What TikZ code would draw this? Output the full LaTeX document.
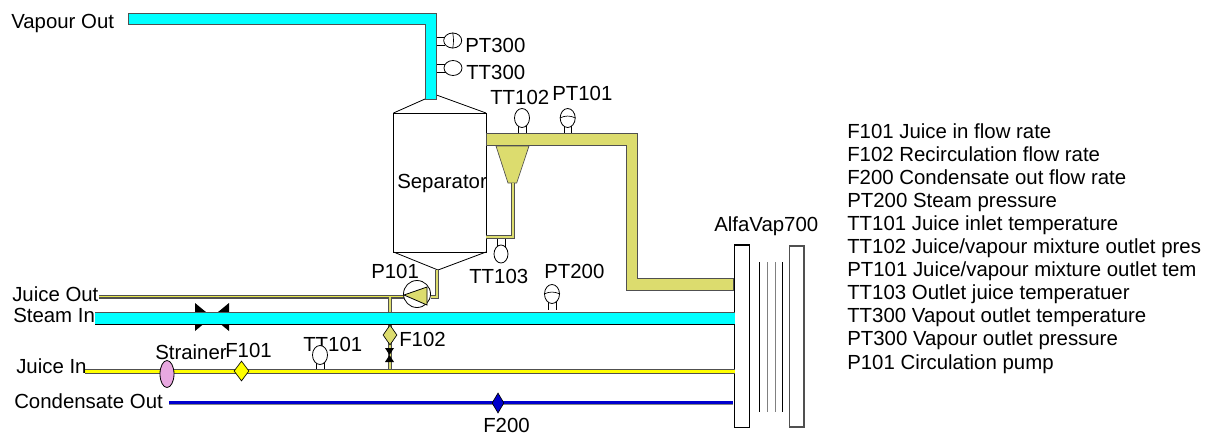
\documentclass[tikz,border=0pt]{standalone}
\usepackage{fontspec}
\setmainfont{Liberation Sans}
\usetikzlibrary{shapes.geometric}
\definecolor{khaki}{RGB}{220,220,110}
\definecolor{edge}{RGB}{80,80,80}
\definecolor{plum}{RGB}{232,168,224}
\definecolor{aqua}{RGB}{0,255,255}
\definecolor{yel}{RGB}{255,255,0}
\definecolor{deep}{RGB}{0,0,205}
\def\PX{*0.75pt}
\tikzset{
 lab/.style={inner sep=0pt,anchor=west,text height=11pt,text depth=0pt,font=\fontsize{15.3}{15.3}\selectfont},
 inst/.style={ellipse,draw=black,fill=white,line width=.6pt,inner sep=0pt,minimum width=15\PX,minimum height=19\PX},
 instside/.style={ellipse,draw=black,fill=white,line width=.6pt,inner sep=0pt,minimum width=18\PX,minimum height=15\PX},
 stem/.style={draw=black,line width=.5pt},
 pipewall/.style={draw=edge,line width=.7pt},
 plate/.style={draw=black,fill=white,line width=.8pt},
 flow/.style={diamond,draw=black,line width=.5pt,inner sep=0pt},
}
\begin{document}
\begin{tikzpicture}[x=0.75pt,y=-0.75pt]
\useasboundingbox (0,0) rectangle (1210,437);
% heat exchanger
\draw[plate] (734.7,245) rectangle (749.3,427.7);
\draw[plate,draw=edge] (789.3,246) rectangle (804,427);
\foreach \x/\c in {759.3/black,767/gray,775/gray,782.7/black}
  \draw[\c,line width=.6pt] (\x,262) -- (\x,412);
% separator
\draw[black,line width=.6pt,fill=white] (393.5,113) rectangle (486,252);
\draw[black,line width=.6pt] (393.5,113) -- (425,99) (436.5,95) -- (486,113);
\draw[black,line width=.6pt] (393.5,252) -- (438,270) -- (486,252);
% vapour pipe
\path[fill=aqua,pipewall] (128,13) -- (436.5,13) -- (436.5,99) -- (425,99) -- (425,24) -- (128,24) -- cycle;
% stems
\draw[stem] (437,37) -- (445,37) (437,45) -- (445,45) (437,64) -- (446,64) (437,72) -- (446,72);
\draw[stem] (518.5,125) -- (518.5,133) (526,125) -- (526,133) (564.5,125) -- (564.5,133) (571.5,125) -- (571.5,133);
\draw[stem] (497.5,238) -- (497.5,248) (505,238) -- (505,248);
\draw[stem] (548,300) -- (548,310) (556,300) -- (556,310);
\draw[stem] (316.5,362) -- (316.5,371) (324,362) -- (324,371);
% khaki pipe
\path[fill=khaki,pipewall] (486,133) -- (637.7,133) -- (637.7,278) -- (733.5,278) -- (733.5,290) -- (626,290) -- (626,145.6) -- (486,145.6) -- cycle;
% cyclone
\path[fill=khaki,draw=edge,line width=.5pt] (496,146) -- (529,146) -- (516.7,183) -- (508,183) -- cycle;
% small pipes
\draw[edge,line width=3pt,line join=miter] (513.3,183) -- (513.3,237) -- (486,237);
\draw[khaki,line width=1.6pt,line join=miter] (513.3,183) -- (513.3,237) -- (486,237);
\draw[edge,line width=3.2pt,line join=miter] (437,270) -- (437,297) -- (431,297);
\draw[khaki,line width=1.8pt,line join=miter] (437,270) -- (437,297) -- (431,297);
% juice out
\draw[edge,line width=3pt] (99,296.5) -- (404,296.5);
\draw[khaki!70!yellow,line width=1.2pt] (99,296.5) -- (404,296.5);
% riser
\draw[edge,line width=3.4pt] (390,297) -- (390,372);
\draw[khaki,line width=2pt] (390,297) -- (390,372);
% steam valve and pipe
\fill[black] (195,303) -- (229,331) -- (229,303) -- (195,331) -- cycle;
\fill[aqua] (95,312) rectangle (735,324);
\draw[edge,line width=.7pt] (95,312) -- (735,312);
\draw[black,line width=.7pt] (95,324) -- (735,324);
% juice in
\draw[edge,line width=3.2pt] (85,371.5) -- (735,371.5);
\draw[yel,line width=1.6pt] (85,371.5) -- (735,371.5);
% condensate
\draw[edge!70,line width=3.4pt] (169,403.2) -- (733,403.2);
\draw[deep,line width=2.4pt] (169,402.7) -- (733,402.7);
% pump
\node[circle,draw=black,fill=white,line width=.6pt,minimum width=27\PX,inner sep=0pt] (pump) at (417,294) {};
\path[fill=khaki,draw=black,line width=.6pt] (404,295) -- (427,287) -- (427,305) -- cycle;
% labels under instruments
\node[lab] (l8) at (303,344) {TT101};
\node[lab] (l6) at (155,352) {Strainer};
\node[lab] (l7) at (225,350) {F101};
% valves and instruments
\fill[black] (385,348) -- (394,348) -- (385,362) -- (394,362) -- cycle;
\node[flow,fill=khaki,minimum width=14\PX,minimum height=20\PX] (f102) at (390,335) {};
\node[flow,fill=yel,minimum width=15\PX,minimum height=20\PX] (f101) at (241.5,371) {};
\node[flow,fill=deep,minimum width=12\PX,minimum height=20\PX] (f200) at (498,403) {};
\node[ellipse,draw=black,fill=plum,line width=.6pt,inner sep=0pt,minimum width=14\PX,minimum height=27\PX] (strainer) at (167,374) {};
\node[inst] (tt102) at (522,118) {};
\node[inst] (pt101) at (567.7,118) {};
\draw[black,line width=.5pt] (pt101.west) to[bend left=25] (pt101.east);
\node[inst] (pt200) at (552,294) {};
\draw[black,line width=.5pt] (pt200.west) to[bend left=25] (pt200.east);
\node[inst,minimum width=14\PX,minimum height=18\PX] (tt103) at (501,254) {};
\node[inst] (tt101) at (320,355) {};
\node[instside] (pt300) at (452.7,40.5) {};
\draw[black,line width=.5pt] (pt300.north) to[bend left=10] (pt300.south);
\node[instside] (tt300) at (453,68) {};
% labels
\node[lab] (l1) at (11,21) {Vapour Out};
\node[lab] (l2) at (12,294) {Juice Out};
\node[lab] (l3) at (13,315) {Steam In};
\node[lab] (l4) at (16,366) {Juice In};
\node[lab] (l5) at (14,401) {Condensate Out};
\node[lab] (l9) at (371,271) {P101};
\node[lab] (l10) at (469,276) {TT103};
\node[lab] (l11) at (544,271) {PT200};
\node[lab] (l12) at (399,339) {F102};
\node[lab] (l13) at (483,425) {F200};
\node[lab] (l14) at (397,181) {Separator};
\node[lab] (l15) at (714,224) {AlfaVap700};
\node[lab] (l16) at (490,97) {TT102};
\node[lab] (l17) at (552,93) {PT101};
\node[lab] (l18) at (465,45) {PT300};
\node[lab] (l19) at (466,72) {TT300};
\node[lab] (k1) at (847,131) {F101 Juice in flow rate};
\node[lab] (k2) at (847,154) {F102 Recirculation flow rate};
\node[lab] (k3) at (847,177) {F200 Condensate out flow rate};
\node[lab] (k4) at (847,200) {PT200 Steam pressure};
\node[lab] (k5) at (847,223) {TT101 Juice inlet temperature};
\node[lab] (k6) at (847,246) {TT102 Juice/vapour mixture outlet pres};
\node[lab] (k7) at (847,269) {PT101 Juice/vapour mixture outlet tem};
\node[lab] (k8) at (847,292) {TT103 Outlet juice temperatuer};
\node[lab] (k9) at (847,315) {TT300 Vapout outlet temperature};
\node[lab] (k10) at (847,338) {PT300 Vapour outlet pressure};
\node[lab] (k11) at (847,362) {P101 Circulation pump};
\end{tikzpicture}
\end{document}
